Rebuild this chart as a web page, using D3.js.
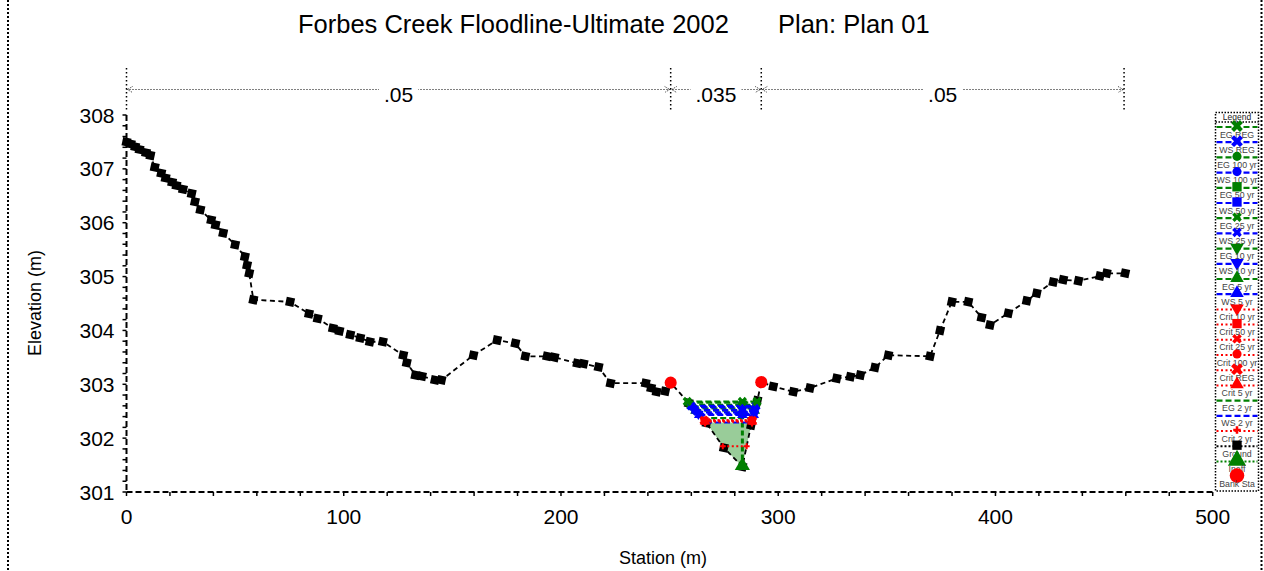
<!DOCTYPE html>
<html><head><meta charset="utf-8">
<script src="https://cdn.jsdelivr.net/npm/d3@7"></script>
<style>
body{margin:0;background:#fff}
svg{display:block}
text{font-family:"Liberation Sans",Arial,sans-serif}
</style>
</head><body>
<svg id="c" width="1264" height="571"></svg>
<script>
// ---------------- DATA ----------------
const groundStation = [0,2,4,6,9,11,13,16,18,21,23,26,30,31.5,34,39,41,44.5,50,54.5,55.5,56.5,58.4,75.3,84,88,95,98,103,107.6,112,118,127.4,129,133,136,142,145,159.7,170.6,179,183.6,193.6,197,207.5,210.4,217.3,222.8,239,241.5,244,248,250.5,258.8,267,275,283.5,287.5,290.4,292.2,297.7,307,314.6,326.9,333.2,337.8,344.5,350.7,369.9,374.5,379.9,387.5,393.6,397.5,405.9,414.4,419,426.6,431.2,438.2,448.1,451.2,459.7];
const groundElevation = [307.50,307.46,307.41,307.36,307.30,307.25,307.03,306.92,306.83,306.75,306.69,306.62,306.54,306.39,306.24,306.05,305.96,305.81,305.59,305.37,305.21,305.06,304.57,304.53,304.31,304.22,304.04,303.99,303.92,303.86,303.79,303.79,303.54,303.40,303.17,303.15,303.08,303.08,303.54,303.82,303.76,303.52,303.52,303.50,303.39,303.38,303.32,303.02,303.02,302.93,302.86,302.87,303.03,302.65,302.28,301.82,301.47,302.24,302.70,303.04,302.96,302.86,302.93,303.11,303.14,303.17,303.31,303.54,303.52,304.00,304.53,304.53,304.24,304.10,304.32,304.55,304.69,304.90,304.94,304.92,305.01,305.06,305.06];
const bankStations = [250.5, 292.2];
const nBreaks = [0, 250.5, 292.2, 459.2];
const nValues = [".05", ".035", ".05"];
const profileNames = ["REG", "100 yr", "50 yr", "25 yr", "10 yr", "5 yr"];
const egLevels = [302.68, 302.66, 302.62, 302.58, 302.55, 302.51];
const wsLevels = [302.60, 302.57, 302.52, 302.48, 302.45, 302.43];
const critNames = ["10 yr", "50 yr", "25 yr", "100 yr", "REG", "5 yr"];
const critLevels = [302.31, 302.32, 302.32, 302.33, 302.33, 302.31];
const eg2Level = 302.37, ws2Level = 302.29, crit2Level = 301.85;
const thalwegStation = 283.5;
const xTicks = [0, 100, 200, 300, 400, 500];
const yTicks = [301, 302, 303, 304, 305, 306, 307, 308];
const legendLabels = ["EG REG","WS REG","EG 100 yr","WS 100 yr","EG 50 yr","WS 50 yr","EG 25 yr","WS 25 yr","EG 10 yr","WS 10 yr","EG 5 yr","WS 5 yr","Crit 10 yr","Crit 50 yr","Crit 25 yr","Crit 100 yr","Crit REG","Crit 5 yr","EG 2 yr","WS 2 yr","Crit 2 yr","Ground","Ineff","Bank Sta"];

// ---------------- STYLES ----------------
const GREEN = "#008000", BLUE = "#0000ff", RED = "#ff0000", BLACK = "#000";
const styles = {
  EG: {color: GREEN, dash: "6,3", w: 2.2},
  WS: {color: BLUE, dash: "6,3", w: 2.2},
  Crit: {color: RED, dash: "2,2.5", w: 2},
};
const egMarkers = ["X", "circle", "square", "x", "tdown", "tup"];
const critMarkers = ["tdown", "square", "x", "circle", "X", "tup"];

const svg = d3.select("#c");
const x = d3.scaleLinear().domain([0, 500]).range([126.5, 1212.7]);
const y = d3.scaleLinear().domain([301, 308]).range([492, 115]);

function marker(g, type, cx, cy, color, s = 1) {
  let sym, size, rot = 0;
  switch (type) {
    case "X": sym = d3.symbolCross; size = 60; rot = 45; break;
    case "x": sym = d3.symbolCross; size = 40; rot = 45; break;
    case "circle": sym = d3.symbolCircle; size = 45; break;
    case "bigcircle": sym = d3.symbolCircle; size = 115; break;
    case "square": sym = d3.symbolSquare; size = 60; break;
    case "gsquare": sym = d3.symbolSquare; size = 72; rot = 12; break;
    case "tdown": sym = d3.symbolTriangle; size = 55; rot = 180; break;
    case "tup": sym = d3.symbolTriangle; size = 55; break;
    case "bigtri": sym = d3.symbolTriangle; size = 100; break;
    case "plus": sym = d3.symbolCross; size = 22; break;
  }
  g.append("path").attr("d", d3.symbol().type(sym).size(size * s)())
    .attr("transform", `translate(${cx},${cy}) rotate(${rot})`)
    .attr("fill", color);
}

// intersections of level with channel ground
function crossings(level) {
  const pts = groundStation.map((s, i) => [s, groundElevation[i]]).filter(p => p[0] >= bankStations[0] && p[0] <= bankStations[1]);
  let left = null, right = null;
  for (let i = 0; i < pts.length - 1; i++) {
    const [s0, e0] = pts[i], [s1, e1] = pts[i + 1];
    if (left === null && e0 >= level && e1 < level) left = s0 + (e0 - level) / (e0 - e1) * (s1 - s0);
    if (e0 < level && e1 >= level) right = s0 + (level - e0) / (e1 - e0) * (s1 - s0);
  }
  const inside = pts.filter(p => p[0] > left && p[0] < right && p[1] < level);
  return {left, right, inside};
}

// ---------------- FRAME ----------------
[8, 1261.5].forEach(fx => svg.append("line").attr("x1", fx).attr("x2", fx).attr("y1", 0).attr("y2", 571)
  .attr("stroke", "#000").attr("stroke-width", 2).attr("stroke-dasharray", "2,2"));

// ---------------- TITLE ----------------
svg.append("text").attr("x", 298).attr("y", 33).attr("font-size", 25.5)
  .text("Forbes Creek Floodline-Ultimate 2002");
svg.append("text").attr("x", 778).attr("y", 33).attr("font-size", 25.5).text("Plan: Plan 01");

// ---------------- MANNING N BAR ----------------
const nbar = svg.append("g");
const barY = 89.5;
nbar.append("line").attr("x1", x(nBreaks[0])).attr("x2", x(nBreaks[3])).attr("y1", barY).attr("y2", barY)
  .attr("stroke", "#000").attr("stroke-width", 1).attr("stroke-dasharray", "1,2");
nBreaks.forEach(b => {
  nbar.append("line").attr("x1", x(b)).attr("x2", x(b)).attr("y1", 68).attr("y2", 110)
    .attr("stroke", "#000").attr("stroke-width", 1.5).attr("stroke-dasharray", "1.5,2.5");
});
for (let i = 0; i < nValues.length; i++) {
  const a = x(nBreaks[i]), b = x(nBreaks[i + 1]);
  [[a, 1], [b, -1]].forEach(([px, d]) => {
    nbar.append("path").attr("d", `M${px + d * 6},${barY - 3} L${px + d * 1},${barY} L${px + d * 6},${barY + 3}`)
      .attr("fill", "none").attr("stroke", "#000").attr("stroke-width", 0.8).attr("stroke-dasharray", "1,1");
  });
  const cx = (a + b) / 2;
  const t = nbar.append("text").attr("x", cx).attr("y", 101.5).attr("font-size", 21).attr("text-anchor", "middle").text(nValues[i]);
  const bb = t.node().getBBox();
  nbar.insert("rect", "text").attr("x", bb.x - 5).attr("y", barY - 3).attr("width", bb.width + 10).attr("height", 6).attr("fill", "#fff");
}

// ---------------- AXES ----------------
const axes = svg.append("g");
axes.append("line").attr("x1", x(0)).attr("x2", x(0)).attr("y1", y(308)).attr("y2", y(301))
  .attr("stroke", "#000").attr("stroke-width", 2).attr("stroke-dasharray", "6,3");
axes.append("line").attr("x1", x(0)).attr("x2", x(500)).attr("y1", y(301)).attr("y2", y(301))
  .attr("stroke", "#000").attr("stroke-width", 2).attr("stroke-dasharray", "6,3");
const yMinor = d3.range(0, 36).map(i => 301 + i * 0.2);
yMinor.forEach(v => axes.append("line").attr("x1", x(0) - 4).attr("x2", x(0)).attr("y1", y(v)).attr("y2", y(v)).attr("stroke", "#000").attr("stroke-width", 1.5));
const xMinor = d3.range(0, 26).map(i => i * 20);
xMinor.forEach(v => axes.append("line").attr("x1", x(v)).attr("x2", x(v)).attr("y1", y(301)).attr("y2", y(301) + 4).attr("stroke", "#000").attr("stroke-width", 1.5));
yTicks.forEach(v => axes.append("text").attr("x", x(0) - 12).attr("y", y(v) + 7.5).attr("text-anchor", "end").attr("font-size", 21).text(v));
xTicks.forEach(v => axes.append("text").attr("x", x(v)).attr("y", 524).attr("text-anchor", "middle").attr("font-size", 21).text(v));
svg.append("text").attr("transform", "translate(41,303) rotate(-90)").attr("text-anchor", "middle").attr("font-size", 18).text("Elevation (m)");
svg.append("text").attr("x", 663).attr("y", 564).attr("text-anchor", "middle").attr("font-size", 18).text("Station (m)");

// ---------------- CHANNEL WATER FILL ----------------
const plot = svg.append("g");
const c2 = crossings(ws2Level);
const fillPts = [[c2.left, ws2Level], ...c2.inside, [c2.right, ws2Level]];
plot.append("path").attr("d", d3.line().x(d => x(d[0])).y(d => y(d[1]))(fillPts) + "Z").attr("fill", "#99cc99");

// ---------------- GROUND ----------------
const gpts = groundStation.map((s, i) => [s, groundElevation[i]]);
plot.append("path").attr("d", d3.line().x(d => x(d[0])).y(d => y(d[1]))(gpts))
  .attr("fill", "none").attr("stroke", BLACK).attr("stroke-width", 1.8).attr("stroke-dasharray", "5,3.5");
gpts.forEach(p => marker(plot, "gsquare", x(p[0]), y(p[1]), BLACK));

plot.append("line").attr("x1", x(thalwegStation)).attr("x2", x(thalwegStation)).attr("y1", y(ws2Level)).attr("y2", y(301.47))
  .attr("stroke", GREEN).attr("stroke-width", 3).attr("stroke-dasharray", "5,3");

// ---------------- PROFILE LINES ----------------
function profile(level, st, mtype, withMid) {
  const c = crossings(level);
  plot.append("line").attr("x1", x(c.left)).attr("x2", x(c.right)).attr("y1", y(level)).attr("y2", y(level))
    .attr("stroke", st.color).attr("stroke-width", st.w).attr("stroke-dasharray", st.dash);
  if (mtype) {
    const xs = withMid ? [c.left, thalwegStation, c.right] : [c.left, c.right];
    xs.forEach(s => marker(plot, mtype, x(s), y(level), st.color, 0.9));
  }
}
profile(eg2Level, styles.EG, null);
profile(ws2Level, styles.WS, null);
profile(crit2Level, styles.Crit, "plus", false);
for (let i = profileNames.length - 1; i >= 0; i--) {
  profile(wsLevels[i], styles.WS, egMarkers[i], true);
  profile(egLevels[i], styles.EG, egMarkers[i], true);
}
for (let i = critNames.length - 1; i >= 0; i--) profile(critLevels[i], styles.Crit, critMarkers[i], false);
marker(plot, "bigtri", x(thalwegStation), y(301.47) - 1, GREEN);
bankStations.forEach(b => {
  const i = groundStation.indexOf(b);
  marker(plot, "bigcircle", x(b), y(groundElevation[i]), RED);
});

// ---------------- LEGEND ----------------
const lg = svg.append("g");
const L = {x: 1215.5, y: 112.5, w: 43, h: 378.5};
lg.append("rect").attr("x", L.x).attr("y", L.y).attr("width", L.w).attr("height", L.h).attr("fill", "#fff")
  .attr("stroke", "#000").attr("stroke-width", 1.5).attr("stroke-dasharray", "1.5,1.5");
lg.append("line").attr("x1", L.x).attr("x2", L.x + L.w).attr("y1", 122).attr("y2", 122)
  .attr("stroke", "#000").attr("stroke-width", 1.5).attr("stroke-dasharray", "1.5,1.5");
lg.append("text").attr("x", L.x + L.w / 2).attr("y", 120).attr("text-anchor", "middle").attr("font-size", 8.5).attr("fill", "#222").text("Legend");
const legendStyle = [];
for (let i = 0; i < profileNames.length; i++) {
  legendStyle.push({st: styles.EG, m: egMarkers[i]});
  legendStyle.push({st: styles.WS, m: egMarkers[i]});
}
critMarkers.forEach(m => legendStyle.push({st: styles.Crit, m}));
legendStyle.push({st: styles.EG, m: null});
legendStyle.push({st: styles.WS, m: null});
legendStyle.push({st: styles.Crit, m: "plus"});
legendStyle.push({st: {color: BLACK, dash: "2,2", w: 2}, m: "square"});
legendStyle.push({st: {color: GREEN, dash: "2,2", w: 2}, m: "bigtri"});
legendStyle.push({st: null, m: "bigcircle", color: RED});
legendLabels.forEach((lab, i) => {
  const ly = 127 + 15.2 * i;
  const ls = legendStyle[i];
  if (ls.st) lg.append("line").attr("x1", L.x + 1).attr("x2", L.x + L.w - 1).attr("y1", ly).attr("y2", ly)
    .attr("stroke", ls.st.color).attr("stroke-width", ls.st.w).attr("stroke-dasharray", ls.st.dash);
  if (ls.m) marker(lg, ls.m, L.x + L.w / 2, ly - 1, ls.st ? ls.st.color : ls.color, 1.45);
  lg.append("text").attr("x", L.x + L.w / 2).attr("y", ly + 10.5).attr("text-anchor", "middle")
    .attr("font-size", 8.8).attr("fill", "#444").text(lab);
});
</script>
</body></html>
